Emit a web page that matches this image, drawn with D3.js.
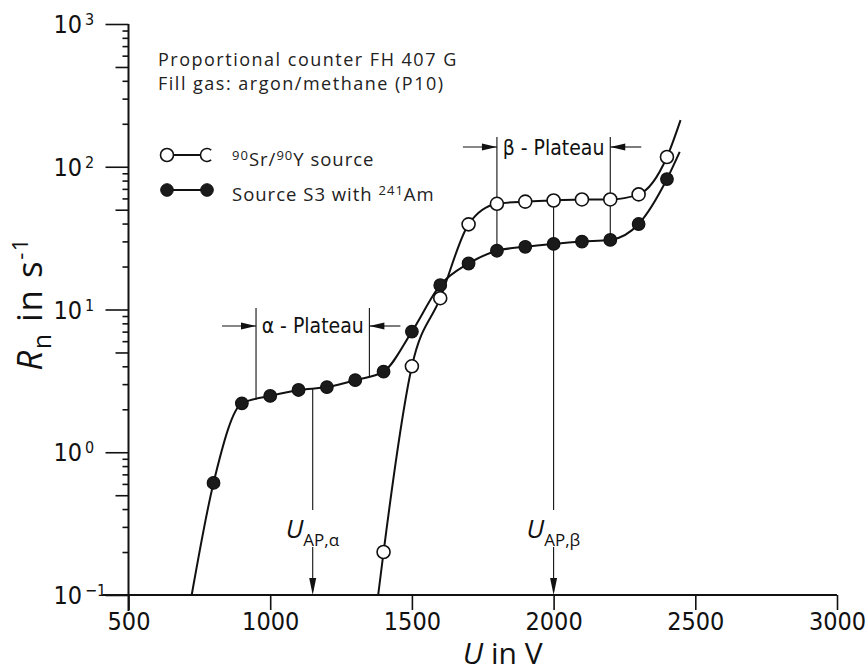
<!DOCTYPE html>
<html><head><meta charset="utf-8">
<script src="https://cdn.jsdelivr.net/npm/d3@7"></script>
<style>body{margin:0;background:#fff}svg{display:block}</style>
</head><body><svg id="c" width="867" height="672"></svg>
<script>
// ---- data ----
const voltageSr = [1400,1500,1600,1700,1800,1900,2000,2100,2200,2300,2400];
const rateSr    = [0.20,4.0,12.0,39.5,55,57,58,59,59,64,117];
const voltageAm = [800,900,1000,1100,1200,1300,1400,1500,1600,1700,1800,1900,2000,2100,2200,2300,2400];
const rateAm    = [0.61,2.2,2.48,2.73,2.86,3.2,3.67,7.0,14.8,21.0,25.8,27.5,28.8,29.9,30.7,39.7,82];
// where the hand-drawn curves continue beyond the measured points (no markers)
const curveEndsSr = [[1381,0.1],[2448,212]];
const curveEndsAm = [[723,0.1],[2445,127]];
const xTickValues = [500,1000,1500,2000,2500,3000];
const yDecadeExponents = [-1,0,1,2,3];
const alphaPlateau = [950,1350];
const betaPlateau = [1800,2200];
const uApAlpha = 1150, uApBeta = 2000;
const legendNames = [["90","Sr/","90","Y source"],["Source S3 with ","241","Am"]];
const infoLines = ["Proportional counter FH 407 G","Fill gas: argon/methane (P10)"];

// ---- setup ----
const svg = d3.select("#c");
const x = d3.scaleLinear().domain([500,3000]).range([128.5,837]);
const y = d3.scaleLog().domain([0.1,1000]).range([595,24]);
const narrow = "'Liberation Sans Narrow','DejaVu Sans Condensed','Arial Narrow',sans-serif";
const sans = "'Open Sans','Noto Sans',sans-serif";

function rateAt(vs, rs, v){
  for(let i=0;i<vs.length-1;i++){
    if(v>=vs[i] && v<=vs[i+1]){
      const t=(v-vs[i])/(vs[i+1]-vs[i]);
      return Math.exp(Math.log(rs[i])*(1-t)+Math.log(rs[i+1])*t);
    }
  }
  return rs[rs.length-1];
}

// ---- y axis ----
const yTickVals=[];
for(let e=-1;e<=2;e++) for(let k=1;k<=9;k++) yTickVals.push(k*Math.pow(10,e));
yTickVals.push(1000);
const yAx = svg.append("g").attr("transform",`translate(${x(500)},0)`)
  .call(d3.axisLeft(y).tickValues(yTickVals).tickFormat("").tickSizeOuter(0));
yAx.select(".domain").remove();
yAx.selectAll(".tick line").attr("stroke","#111").attr("stroke-width",1.6)
  .attr("x2",d=>{const m=d/Math.pow(10,Math.floor(Math.log10(d)+1e-9));
     return Math.abs(m-1)<1e-6?-23:(Math.abs(m-5)<1e-6?-13:-6);});
svg.append("line").attr("x1",x(500)).attr("x2",x(500)).attr("y1",y(1000)).attr("y2",y(0.1)+16)
  .attr("stroke","#111").attr("stroke-width",2);
// decade labels
yDecadeExponents.forEach(e=>{
  const yy=y(Math.pow(10,e));
  svg.append("text").attr("x",82).attr("y",yy+9).attr("text-anchor","end")
    .style("font-family",narrow).style("font-size","25px").attr("fill","#111").text("10");
  svg.append("text").attr("x",85).attr("y",yy+1).attr("text-anchor","start")
    .style("font-family",narrow).style("font-size","16px").attr("fill","#111").text(e<0?"\u2212"+(-e):String(e));
});

// ---- x axis ----
const xAx = svg.append("g").attr("transform",`translate(0,${y(0.1)})`)
  .call(d3.axisBottom(x).tickValues(xTickValues).tickSize(15).tickSizeOuter(0).tickFormat(d=>d));
xAx.select(".domain").remove();
xAx.selectAll(".tick line").attr("stroke","#111").attr("stroke-width",1.6);
xAx.selectAll(".tick text").attr("y",35).attr("dy",0)
  .style("font-family",narrow).style("font-size","25px").attr("fill","#111");
svg.append("line").attr("x1",x(500)-26).attr("x2",x(3000)).attr("y1",y(0.1)).attr("y2",y(0.1))
  .attr("stroke","#111").attr("stroke-width",2);

// axis titles
const xt = svg.append("text").attr("x",(x(500)+x(3000))/2+20).attr("y",664).attr("text-anchor","middle")
  .style("font-family",sans).style("font-size","30px").attr("fill","#111");
xt.append("tspan").style("font-style","italic").text("U");
xt.append("tspan").text(" in V");
const yt = svg.append("text").attr("transform","translate(42,304) rotate(-90)").attr("text-anchor","middle")
  .style("font-family",sans).style("font-size","35px").style("letter-spacing","1.5px").attr("fill","#111");
yt.append("tspan").style("font-style","italic").text("R");
yt.append("tspan").attr("dy",9).style("font-size","25px").text("n");
yt.append("tspan").attr("dy",-9).text(" in s");
yt.append("tspan").attr("dy",-14).style("font-size","22px").text("-1");

// ---- curves ----
const line = d3.line().x(d=>x(d[0])).y(d=>y(d[1])).curve(d3.curveMonotoneX);
const ptsSr = [curveEndsSr[0], ...voltageSr.map((v,i)=>[v,rateSr[i]]), curveEndsSr[1]];
const ptsAm = [curveEndsAm[0], ...voltageAm.map((v,i)=>[v,rateAm[i]]), curveEndsAm[1]];

// ---- plateau annotations (thin lines) ----
const thin = g=>g.attr("stroke","#111").attr("stroke-width",1.1).attr("fill","none");
function arrowHead(xTip,yTip,dir){ // dir: 'r','l','d'
  let p;
  if(dir==='r') p=[[xTip,yTip],[xTip-15,yTip-3.5],[xTip-15,yTip+3.5]];
  if(dir==='l') p=[[xTip,yTip],[xTip+15,yTip-3.5],[xTip+15,yTip+3.5]];
  if(dir==='d') p=[[xTip,yTip],[xTip-3.5,yTip-17],[xTip+3.5,yTip-17]];
  svg.append("path").attr("d","M"+p.map(q=>q.join(",")).join("L")+"Z").attr("fill","#111");
}
function plateau(range, topY, arrowY, label, labelY, vs, rs){
  range.forEach(v=>{
    svg.append("line").call(thin).attr("x1",x(v)).attr("x2",x(v)).attr("y1",topY).attr("y2",y(rateAt(vs,rs,v)));
  });
  svg.append("line").call(thin).attr("x1",x(range[0])-34).attr("x2",x(range[0])).attr("y1",arrowY).attr("y2",arrowY);
  arrowHead(x(range[0]),arrowY,'r');
  svg.append("line").call(thin).attr("x1",x(range[1])+31).attr("x2",x(range[1])).attr("y1",arrowY).attr("y2",arrowY);
  arrowHead(x(range[1]),arrowY,'l');
  svg.append("text").attr("x",x((range[0]+range[1])/2)).attr("y",labelY).attr("text-anchor","middle")
    .style("font-family",narrow).style("font-size","21px").attr("fill","#111").text(label);
}
plateau(alphaPlateau,308,326,"\u03b1 - Plateau",333,voltageAm,rateAm);
plateau(betaPlateau,137,147,"\u03b2 - Plateau",155,voltageAm,rateAm);

function operatingPoint(v, rTop, sub){
  const xx=x(v);
  svg.append("line").call(thin).attr("x1",xx).attr("x2",xx).attr("y1",y(rTop)).attr("y2",510);
  svg.append("line").call(thin).attr("x1",xx).attr("x2",xx).attr("y1",547).attr("y2",y(0.1)-4);
  arrowHead(xx,y(0.1),'d');
  const t=svg.append("text").attr("x",xx-27).attr("y",538).style("font-family",sans).style("font-size","26px").attr("fill","#111");
  t.append("tspan").style("font-style","italic").text("U");
  t.append("tspan").attr("dy",8).style("font-size","17px").text(sub);
}
operatingPoint(uApAlpha, rateAt(voltageAm,rateAm,uApAlpha), "AP,\u03b1");
operatingPoint(uApBeta, rateAt(voltageSr,rateSr,uApBeta), "AP,\u03b2");

svg.append("path").attr("d",line(ptsAm)).attr("fill","none").attr("stroke","#111").attr("stroke-width",2);
svg.append("path").attr("d",line(ptsSr)).attr("fill","none").attr("stroke","#111").attr("stroke-width",2);

// markers
svg.append("g").selectAll("circle").data(voltageAm.map((v,i)=>[v,rateAm[i]])).join("circle")
  .attr("cx",d=>x(d[0])).attr("cy",d=>y(d[1])).attr("r",6.3).attr("fill","#1a1a1a").attr("stroke","#111").attr("stroke-width",1.2);
svg.append("g").selectAll("circle").data(voltageSr.map((v,i)=>[v,rateSr[i]])).join("circle")
  .attr("cx",d=>x(d[0])).attr("cy",d=>y(d[1])).attr("r",6.5).attr("fill","#fff").attr("stroke","#111").attr("stroke-width",1.6);

// ---- info text ----
infoLines.forEach((s,i)=>{
  svg.append("text").attr("x",158).attr("y",66+i*24).style("font-family",sans).style("font-size","18px")
    .style("letter-spacing","1.5px").attr("fill","#222").text(s);
});

// ---- legend ----
const lg = svg.append("g");
lg.append("line").attr("x1",167).attr("x2",201).attr("y1",155).attr("y2",155).attr("stroke","#111").attr("stroke-width",2);
lg.append("circle").attr("cx",167).attr("cy",155).attr("r",6.5).attr("fill","#fff").attr("stroke","#111").attr("stroke-width",1.6);
{ const cx=207, cy=155, r=6.5, a=50*Math.PI/180;
  lg.append("path").attr("d",`M${cx+r*Math.cos(-a)},${cy+r*Math.sin(-a)} A${r},${r} 0 1 0 ${cx+r*Math.cos(a)},${cy+r*Math.sin(a)}`)
    .attr("fill","none").attr("stroke","#111").attr("stroke-width",1.6); }
lg.append("line").attr("x1",167).attr("x2",207).attr("y1",190).attr("y2",190).attr("stroke","#111").attr("stroke-width",2);
[167,207].forEach(cx=>lg.append("circle").attr("cx",cx).attr("cy",190).attr("r",6.3).attr("fill","#1a1a1a").attr("stroke","#111"));
function legendText(parts, yy, supIdx){
  const t=lg.append("text").attr("x",232).attr("y",yy).style("font-family",sans).style("font-size","18.5px")
    .style("letter-spacing","1px").attr("fill","#222");
  parts.forEach((p,i)=>{
    const sup=supIdx.includes(i);
    const ts=t.append("tspan").text(p);
    if(sup){ ts.style("font-size","13px").attr("dy",-6); }
    else if(i>0 && supIdx.includes(i-1)){ ts.attr("dy",6); }
  });
}
legendText(legendNames[0],166,[0,2]);
legendText(legendNames[1],201,[1]);
</script></body></html>
